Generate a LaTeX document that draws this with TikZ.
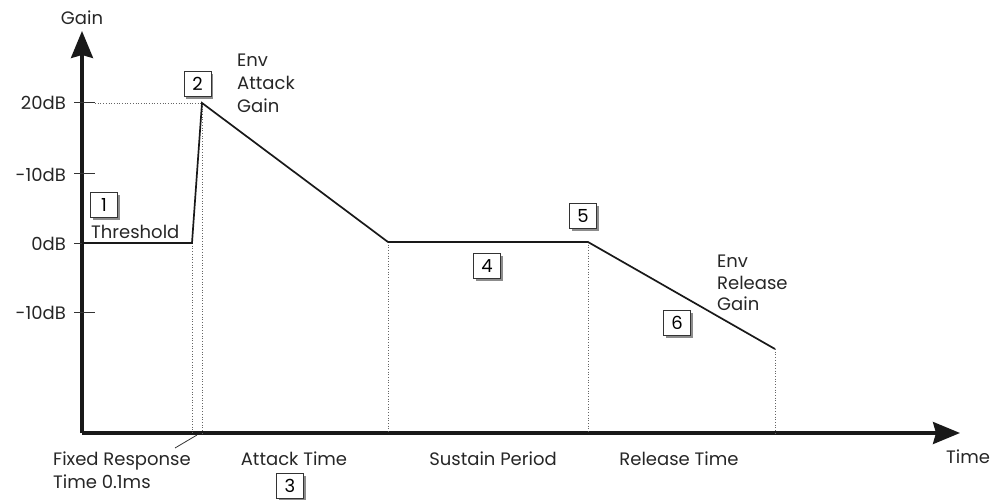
\documentclass[tikz,border=0pt]{standalone}
\usepackage{fontspec}
\setmainfont{Poppins}
\usetikzlibrary{arrows.meta,shadows}
\begin{document}
\begin{tikzpicture}[x=1pt,y=-1pt,
  lbl/.style={font=\fontsize{18}{21}\selectfont, inner sep=0pt, text=black!85},
  numbox/.style={draw=black!80, line width=0.8pt, fill=white, minimum width=27pt, minimum height=25pt, inner sep=0pt,
     font=\fontsize{18}{21}\selectfont,
     general shadow={fill=black!45, shadow xshift=2.2pt, shadow yshift=-2.2pt}},
  axisline/.style={line width=3.2pt, black!90, -{Stealth[length=27pt,width=22pt,inset=3pt]}},
  env/.style={line width=1.7pt, black!90, line join=miter},
  guide/.style={line width=0.7pt, black!60, dotted},
  tick/.style={line width=1pt, black!80}]
\useasboundingbox (0,0) rectangle (993,500);

% axes
\coordinate (O) at (82,433);
\coordinate (ytop) at (82,31);
\coordinate (xend) at (960,433);
\draw[axisline] (O) -- (ytop);
\draw[axisline] (O) -- (xend);

% ticks
\coordinate (t1a) at (74,103); \coordinate (t1b) at (95,103);
\coordinate (t2a) at (74,173); \coordinate (t2b) at (95,173);
\coordinate (t3a) at (74,243); \coordinate (t3b) at (95,243);
\coordinate (t4a) at (74,312); \coordinate (t4b) at (95,312);
\draw[tick] (t1a) -- (t1b);
\draw[tick] (t2a) -- (t2b);
\draw[tick] (t3a) -- (t3b);
\draw[tick] (t4a) -- (t4b);

\node[lbl, anchor=base east] (l20) at (66,110) {20dB};
\node[lbl, anchor=base east] (lm10a) at (66,181) {-10dB};
\node[lbl, anchor=base east] (l0) at (66,250) {0dB};
\node[lbl, anchor=base east] (lm10b) at (66,319) {-10dB};
\node[lbl, anchor=base] (gain) at (82,25) {Gain};

% envelope points
\coordinate (p0) at (82,243);
\coordinate (p1) at (192,243);
\coordinate (p2) at (202,103);
\coordinate (p3) at (388,242);
\coordinate (p4) at (588,242);
\coordinate (p5) at (775,349);

% guides
\coordinate (g20) at (95,103);
\coordinate (b1) at (192,433);
\coordinate (b2) at (202,433);
\coordinate (b3) at (388,433);
\coordinate (b4) at (588,433);
\coordinate (b5) at (775,433);
\coordinate (p2b) at (202,106);
\draw[guide] (g20) -- (p2);
\draw[guide] (p1) -- (b1);
\draw[guide] (p2b) -- (b2);
\draw[guide] (p3) -- (b3);
\draw[guide] (p4) -- (b4);
\draw[guide] (p5) -- (b5);

\draw[env] (p0) -- (p1) -- (p2) -- (p3) -- (p4) -- (p5);

% leader line
\coordinate (ld1) at (197,435);
\coordinate (ld2) at (175,448);
\draw[line width=0.8pt, black!80] (ld1) -- (ld2);

% labels
\node[lbl, anchor=base west] (thr) at (91,238) {Threshold};
\node[lbl, anchor=base west] (ea1) at (237,67) {Env};
\node[lbl, anchor=base west] (ea2) at (237,90) {Attack};
\node[lbl, anchor=base west] (ea3) at (237,113) {Gain};
\node[lbl, anchor=base west] (er1) at (717,267) {Env};
\node[lbl, anchor=base west] (er2) at (717,289) {Release};
\node[lbl, anchor=base west] (er3) at (717,310) {Gain};
\node[lbl, anchor=base west] (fr1) at (53,465) {Fixed Response};
\node[lbl, anchor=base west] (fr2) at (53,488) {Time 0.1ms};
\node[lbl, anchor=base] (att) at (294,465) {Attack Time};
\node[lbl, anchor=base] (sus) at (493,465) {Sustain Period};
\node[lbl, anchor=base] (rel) at (679,465) {Release Time};
\node[lbl, anchor=base west] (time) at (946,463) {Time};

% numbered boxes
\node[numbox] (n1) at (104,205) {1};
\node[numbox] (n2) at (197.5,84) {2};
\node[numbox] (n3) at (290,486) {3};
\node[numbox] (n4) at (487,266) {4};
\node[numbox] (n5) at (583,216) {5};
\node[numbox] (n6) at (677,323) {6};
\end{tikzpicture}
\end{document}
